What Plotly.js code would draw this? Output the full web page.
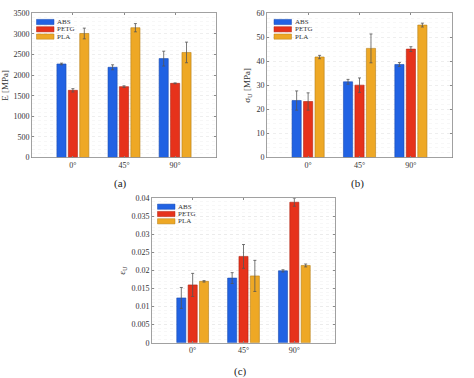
<!DOCTYPE html>
<html>
<head>
<meta charset="utf-8">
<script src="https://cdn.plot.ly/plotly-3.0.1.min.js"></script>
<style>html,body{margin:0;padding:0;background:#fff;}#chart{width:474px;height:378px;}</style>
</head>
<body>
<div id="chart"></div>
<script>
// ---- data ----
const orientations = ["0°", "45°", "90°"];
const seriesNames = ["ABS", "PETG", "PLA"];
const seriesColors = ["#2162e3", "#e6321b", "#eea825"];
const edgeColors = ["#1a4bb0", "#b02412", "#b57e16"];

// (a) Young's modulus E [MPa]
const E_ABS = [2270, 2190, 2400];
const E_PETG = [1630, 1720, 1800];
const E_PLA = [3010, 3150, 2550];
const E_ABS_err = [20, 60, 180];
const E_PETG_err = [40, 20, 10];
const E_PLA_err = [130, 100, 250];

// (b) ultimate strength sigma_U [MPa]
const S_ABS = [23.7, 31.5, 38.7];
const S_PETG = [23.3, 30.1, 45.1];
const S_PLA = [41.8, 45.4, 55.1];
const S_ABS_err = [4.0, 1.0, 0.8];
const S_PETG_err = [3.6, 3.0, 1.0];
const S_PLA_err = [0.7, 6.0, 0.8];

// (c) ultimate strain eps_U
const U_ABS = [0.0124, 0.0179, 0.0199];
const U_PETG = [0.0160, 0.0239, 0.0389];
const U_PLA = [0.0170, 0.0185, 0.0214];
const U_ABS_err = [0.0029, 0.0015, 0.0003];
const U_PETG_err = [0.0032, 0.0033, 0.0011];
const U_PLA_err = [0.0002, 0.0043, 0.0004];

const panelLabels = ["(a)", "(b)", "(c)"];
const yTitles = ["E [MPa]", "σ<sub>U</sub> [MPa]", "ε<sub>U</sub>"];

const xPos = orientations.map((_, i) => i + 1);
const FONT = "'Liberation Serif', 'DejaVu Serif', serif";

function mk(vals, errs, k, xa, ya) {
  return {
    type: "bar", x: xPos, y: vals, name: seriesNames[k], xaxis: xa, yaxis: ya,
    marker: {color: seriesColors[k], line: {color: edgeColors[k], width: 0.6}},
    error_y: {type: "data", array: errs, visible: true, color: "#555", thickness: 0.8, width: 1.5},
    showlegend: false, hoverinfo: "skip"
  };
}

const data = [
  mk(E_ABS, E_ABS_err, 0, "x", "y"),
  mk(E_PETG, E_PETG_err, 1, "x", "y"),
  mk(E_PLA, E_PLA_err, 2, "x", "y"),
  mk(S_ABS, S_ABS_err, 0, "x2", "y2"),
  mk(S_PETG, S_PETG_err, 1, "x2", "y2"),
  mk(S_PLA, S_PLA_err, 2, "x2", "y2"),
  mk(U_ABS, U_ABS_err, 0, "x3", "y3"),
  mk(U_PETG, U_PETG_err, 1, "x3", "y3"),
  mk(U_PLA, U_PLA_err, 2, "x3", "y3")
];

function xax(domain, anchor) {
  return {
    domain: domain, anchor: anchor, range: [0.2, 3.8],
    tickmode: "array", tickvals: xPos, ticktext: orientations,
    showline: true, mirror: "ticks", linecolor: "#8a8a8a", linewidth: 0.8,
    ticks: "inside", ticklen: 2, tickcolor: "#8a8a8a",
    showgrid: false, zeroline: false,
    tickfont: {family: FONT, size: 8, color: "#333"}
  };
}
function yax(domain, anchor, range, dtick, minorDtick, title, tickvals, ticktext) {
  const o = {
    domain: domain, anchor: anchor, range: range, dtick: dtick,
    showline: true, mirror: "ticks", linecolor: "#8a8a8a", linewidth: 0.8,
    ticks: "inside", ticklen: 2, tickcolor: "#8a8a8a",
    showgrid: true, gridcolor: "#e2e2e2", griddash: "dot", gridwidth: 0.6,
    minor: {dtick: minorDtick, showgrid: true, gridcolor: "#efefef", griddash: "dot", gridwidth: 0.5},
    zeroline: false,
    tickfont: {family: FONT, size: 8, color: "#333"},
    title: {text: title, font: {family: FONT, size: 9, color: "#333"}, standoff: 4}
  };
  if (tickvals) { o.tickmode = "array"; o.tickvals = tickvals; o.ticktext = ticktext; }
  return o;
}

const cTicks = [0, 0.005, 0.01, 0.015, 0.02, 0.025, 0.03, 0.035, 0.04];
const cTickText = ["0", "0.005", "0.01", "0.015", "0.02", "0.025", "0.03", "0.035", "0.04"];

const dA = {x: [32/474, 216/474], y: [1 - 157.5/378, 1 - 13.3/378]};
const dB = {x: [267/474, 452/474], y: dA.y};
const dC = {x: [152/474, 335/474], y: [1 - 342.7/378, 1 - 198.3/378]};

const layout = {
  width: 474, height: 378,
  margin: {l: 0, r: 0, t: 0, b: 0},
  paper_bgcolor: "#fff", plot_bgcolor: "#fff",
  font: {family: FONT},
  barmode: "group", bargap: 0.33, bargroupgap: 0.2,
  showlegend: false,
  xaxis: xax(dA.x, "y"),
  yaxis: yax(dA.y, "x", [0, 3500], 500, 100, yTitles[0]),
  xaxis2: xax(dB.x, "y2"),
  yaxis2: yax(dB.y, "x2", [0, 60], 10, 2, yTitles[1]),
  xaxis3: xax(dC.x, "y3"),
  yaxis3: yax(dC.y, "x3", [0, 0.04], 0.005, 0.001, yTitles[2], cTicks, cTickText),
  shapes: [], annotations: []
};

// panel labels
const labelPos = [[120, 183], [357, 183], [240, 371]];
panelLabels.forEach((t, i) => {
  layout.annotations.push({
    text: t, xref: "paper", yref: "paper", x: labelPos[i][0] / 474, y: 1 - labelPos[i][1] / 378,
    xanchor: "center", yanchor: "middle", showarrow: false,
    font: {family: FONT, size: 11, color: "#222"}
  });
});

// legends (one per panel), swatch + label
const legendOrigins = [[36.5, 22], [274, 22], [157.5, 206.7]];
const legendRowStep = 7.3;
legendOrigins.forEach(([lx, ly]) => {
  seriesNames.forEach((nm, k) => {
    const cy = ly + k * legendRowStep;
    layout.shapes.push({
      type: "rect", xref: "paper", yref: "paper",
      x0: lx / 474, x1: (lx + 17.5) / 474,
      y0: 1 - (cy - 2.6) / 378, y1: 1 - (cy + 2.6) / 378,
      fillcolor: seriesColors[k], line: {color: edgeColors[k], width: 0.5}
    });
    layout.annotations.push({
      text: nm, xref: "paper", yref: "paper", x: (lx + 18.5) / 474, y: 1 - cy / 378,
      xanchor: "left", yanchor: "middle", showarrow: false,
      font: {family: FONT, size: 7, color: "#333"}
    });
  });
});

Plotly.newPlot("chart", data, layout, {staticPlot: true, displayModeBar: false});
</script>
</body>
</html>
